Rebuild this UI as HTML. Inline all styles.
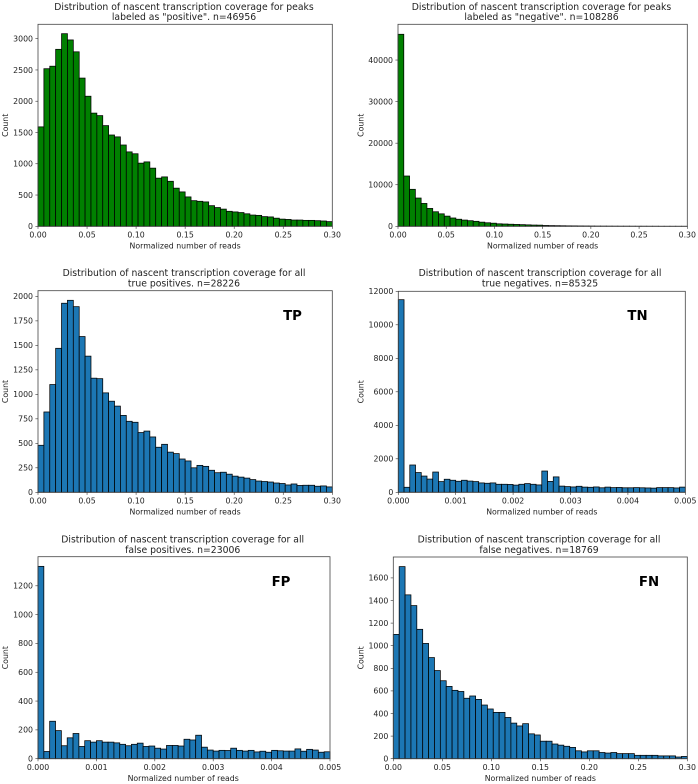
<!DOCTYPE html>
<html>
<head>
<meta charset="utf-8">
<title>Nascent transcription coverage histograms</title>
<style>
html,body{margin:0;padding:0;background:#fff;width:698px;height:784px;overflow:hidden}
svg{display:block}
text{font-family:"DejaVu Sans","Liberation Sans",sans-serif;fill:#222}
</style>
</head>
<body>
<svg id="figure" xmlns="http://www.w3.org/2000/svg" width="698" height="784" viewBox="0 0 698 784">
<defs><filter id="soft" x="-2%" y="-2%" width="104%" height="104%"><feGaussianBlur stdDeviation="0.35"/></filter></defs>
<g id="root" filter="url(#soft)"></g>
</svg>
<script>
var positiveValues = [1590,2520,2560,2830,3080,2980,2790,2370,2080,1810,1770,1610,1460,1430,1300,1190,1160,1010,1030,930,770,790,720,610,550,470,410,400,390,330,300,275,240,230,220,200,180,175,155,150,130,115,110,100,100,95,95,90,85,75];
var negativeValues = [46200,12100,8900,6800,5500,4300,3500,3000,2450,2000,1700,1500,1350,1200,1000,850,750,600,550,500,450,400,350,300,280,200,170,150,130,110,100,80,70,60,50,45,40,35,30,30,25,20,20,15,15,10,10,10,10,10];
var tpValues = [480,820,1100,1470,1930,1960,1895,1590,1390,1165,1160,1015,930,880,785,725,715,610,625,565,460,490,410,395,340,320,250,275,265,225,200,205,185,165,155,145,130,115,110,105,95,90,75,85,70,72,72,62,65,55];
var tnValues = [11500,300,1630,1180,970,790,1210,640,780,720,660,720,670,640,560,540,560,480,480,470,430,480,520,480,440,1270,650,920,370,340,320,360,310,300,320,270,310,280,290,270,270,280,270,260,250,280,280,280,260,310];
var fpValues = [1335,50,260,195,90,145,175,85,125,115,125,115,115,110,100,90,100,108,85,88,73,67,92,92,88,135,130,163,80,60,53,58,57,73,58,53,58,47,52,45,58,55,53,53,68,52,65,60,45,48];
var fnValues = [1100,1700,1450,1355,1145,1020,895,780,690,640,605,595,535,555,525,475,440,410,410,365,315,290,310,220,210,155,155,130,120,110,100,70,60,70,70,55,50,55,45,45,45,30,30,30,30,25,25,25,15,20];

var wideXTicks = [0,0.05,0.10,0.15,0.20,0.25,0.30];
var wideXLabels = ["0.00","0.05","0.10","0.15","0.20","0.25","0.30"];
var narrowXTicks = [0,0.001,0.002,0.003,0.004,0.005];
var narrowXLabels = ["0.000","0.001","0.002","0.003","0.004","0.005"];
var positiveYTicks = [0,500,1000,1500,2000,2500,3000];
var negativeYTicks = [0,10000,20000,30000,40000];
var tpYTicks = [0,250,500,750,1000,1250,1500,1750,2000];
var tnYTicks = [0,2000,4000,6000,8000,10000,12000];
var fpYTicks = [0,200,400,600,800,1000,1200];
var fnYTicks = [0,200,400,600,800,1000,1200,1400,1600];

var panels = [
 {id:"positive",l:38,r:332.3,t:24.3,b:226.3,xMax:0.30,yMax:3230,values:positiveValues,xTicks:wideXTicks,xLabels:wideXLabels,yTicks:positiveYTicks,title:["Distribution of nascent transcription coverage for peaks",'labeled as "positive". n=46956'],titleY:[6.9,16.9],titleX:184,color:"#008000",ylX:5.7},
 {id:"negative",l:398,r:687.3,t:24.3,b:226.3,xMax:0.30,yMax:48600,values:negativeValues,xTicks:wideXTicks,xLabels:wideXLabels,yTicks:negativeYTicks,title:["Distribution of nascent transcription coverage for peaks",'labeled as "negative". n=108286'],titleY:[6.9,16.9],titleX:541.5,color:"#008000",ylX:361},
 {id:"tp",l:38,r:332.3,t:290.7,b:492.3,xMax:0.30,yMax:2058,values:tpValues,xTicks:wideXTicks,xLabels:wideXLabels,yTicks:tpYTicks,title:["Distribution of nascent transcription coverage for all","true positives. n=28226"],titleY:[272.9,283.2],titleX:184,color:"#1f77b4",ylX:5.7,tag:"TP",tagX:292.5,tagY:315},
 {id:"tn",l:398.3,r:685.3,t:291.3,b:492.3,xMax:0.005,yMax:12000,values:tnValues,xTicks:narrowXTicks,xLabels:narrowXLabels,yTicks:tnYTicks,title:["Distribution of nascent transcription coverage for all","true negatives. n=85325"],titleY:[272.9,283.2],titleX:540,color:"#1f77b4",ylX:361,tag:"TN",tagX:637.5,tagY:315},
 {id:"fp",l:38,r:330,t:556.7,b:758.7,xMax:0.005,yMax:1402,values:fpValues,xTicks:narrowXTicks,xLabels:narrowXLabels,yTicks:fpYTicks,title:["Distribution of nascent transcription coverage for all","false positives. n=23006"],titleY:[539.2,549.7],titleX:182.7,color:"#1f77b4",ylX:5.7,tag:"FP",tagX:281,tagY:581.3},
 {id:"fn",l:393.3,r:687.3,t:557,b:758.7,xMax:0.30,yMax:1785,values:fnValues,xTicks:wideXTicks,xLabels:wideXLabels,yTicks:fnYTicks,title:["Distribution of nascent transcription coverage for all","false negatives. n=18769"],titleY:[539.2,549.7],titleX:539,color:"#1f77b4",ylX:361,tag:"FN",tagX:649,tagY:581.3}
];

var NS = "http://www.w3.org/2000/svg";
var root = document.getElementById("root");
function make(tag, attrs, parent, txt){
  var el = document.createElementNS(NS, tag);
  for (var k in attrs) el.setAttribute(k, attrs[k]);
  if (txt !== undefined) el.textContent = txt;
  parent.appendChild(el);
  return el;
}
panels.forEach(function(p){
  var x = function(v){ return p.l + (v / p.xMax) * (p.r - p.l); };
  var y = function(v){ return p.b - (v / p.yMax) * (p.b - p.t); };
  var g = make("g", {}, root);
  
  
  var binW = p.xMax / p.values.length;
  p.values.forEach(function(v, i){
    var top = Math.max(y(v), p.t);
    var bar = make("rect", {x:x(i*binW), y:top, width:x((i+1)*binW)-x(i*binW), height:p.b-top, fill:p.color, stroke:"#000", "stroke-width":0.75}, g);
    
    
  });
  var frame = make("rect", {x:p.l, y:p.t, width:p.r-p.l, height:p.b-p.t, fill:"none", stroke:"#444", "stroke-width":0.8}, g);
  
  
  p.xTicks.forEach(function(t, i){
    var px = x(t);
    var tick = make("line", {x1:px, x2:px, y1:p.b, y2:p.b+2.6, stroke:"#333", "stroke-width":0.6}, g);
    
    
    var lab = make("text", {x:px, y:p.b+11.3, "text-anchor":"middle", "font-size":7.8}, g, p.xLabels[i]);
    
    
  });
  p.yTicks.forEach(function(t){
    var py = y(t);
    var tick = make("line", {x1:p.l-2.6, x2:p.l, y1:py, y2:py, stroke:"#333", "stroke-width":0.6}, g);
    
    
    var lab = make("text", {x:p.l-5, y:py+2.8, "text-anchor":"end", "font-size":7.8}, g, String(t));
    
    
  });
  var xt = make("text", {x:(p.l+p.r)/2 - (p.id==="fp"?0.8:0), y:p.b+22.4, "text-anchor":"middle", "font-size":7.8}, g, "Normalized number of reads");
  
  
  var yc = (p.t+p.b)/2;
  var yt = make("text", {x:p.ylX, y:yc, "text-anchor":"middle", "dominant-baseline":"central", "font-size":7.8, transform:"rotate(-90 "+p.ylX+" "+yc+")"}, g, "Count");
  
  
  p.title.forEach(function(line, i){
    var tl = make("text", {x:p.titleX, y:p.titleY[i]+3.2, "text-anchor":"middle", "font-size":9.27}, g, line);
    
    
  });
  if (p.tag){
    var tg = make("text", {x:p.tagX, y:p.tagY+4.8, "text-anchor":"middle", "font-size":13.3, "font-weight":"bold", style:"fill:#000"}, g, p.tag);
    
    
  }
});
</script>
</body>
</html>
